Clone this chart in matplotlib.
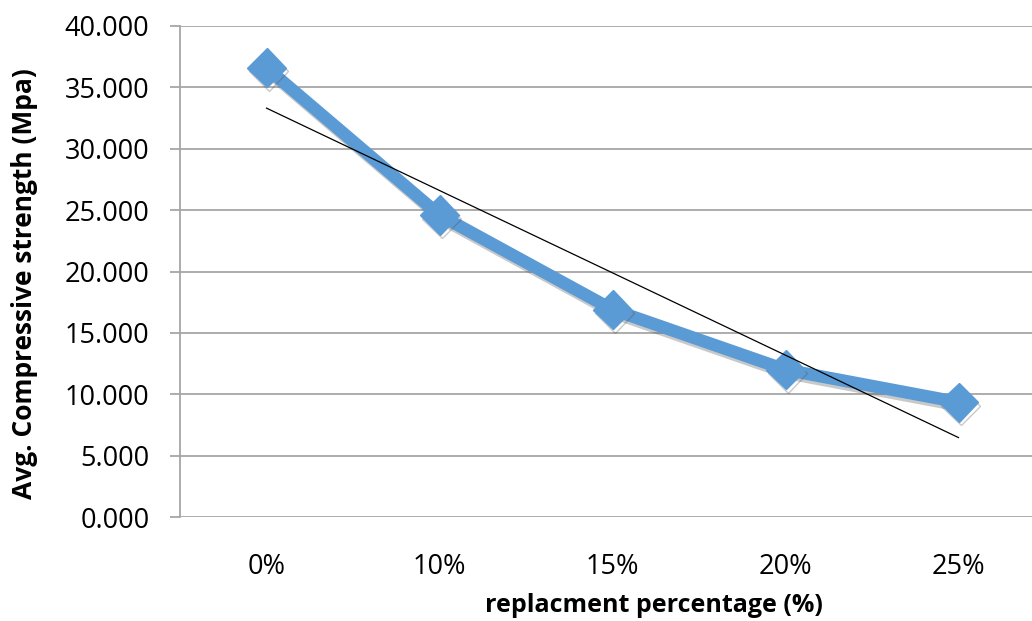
import numpy as np
import matplotlib.pyplot as plt
import matplotlib.patheffects as pe

categories = ['0%', '10%', '15%', '20%', '25%']
strength = [36.6, 24.6, 16.9, 12.0, 9.35]

plt.rcParams['font.family'] = ['Open Sans', 'DejaVu Sans']

fig = plt.figure(figsize=(10.32, 6.21), dpi=100)
ax = fig.add_axes([180 / 1032, 1 - 517 / 621, 865 / 1032, 491 / 621])

x = np.arange(1, len(categories) + 1)

# linear trendline through the points
k, b = np.polyfit(x, strength, 1)
ax.plot(x, k * x + b, color='black', lw=0.9, zorder=3)

shadow = [pe.SimpleLineShadow(offset=(1.5, -2.5), shadow_color='0.3', alpha=0.3), pe.Normal()]
ax.plot(x, strength, color='#5B9BD5', lw=9, marker='D', markersize=20,
        solid_joinstyle='miter', path_effects=shadow, zorder=2)

ax.set_xlim(0.5, 5.5)
ax.set_ylim(0, 40)
ax.set_yticks(np.arange(0, 41, 5))
ax.set_yticklabels([f'{v:.3f}' for v in np.arange(0, 41, 5)])
ax.set_xticks(x)
ax.set_xticklabels(categories)

ax.grid(axis='y', color='#A6A6A6', lw=1.3)
ax.set_axisbelow(True)
for s in ['top', 'right', 'bottom']:
    ax.spines[s].set_visible(False)
ax.spines['left'].set_color('#A6A6A6')
ax.spines['left'].set_linewidth(1.3)
ax.tick_params(axis='y', length=7, width=1.3, color='#A6A6A6', labelsize=19.5, pad=15)
ax.tick_params(axis='x', length=0, labelsize=19.5, pad=26)

ax.set_xlabel('replacment percentage (%)', fontsize=18, fontweight='bold')
ax.set_ylabel('Avg. Compressive strength (Mpa)', fontsize=19, fontweight='bold')
ax.xaxis.set_label_coords((654 - 180) / 865, -(605 - 517) / 491)
ax.xaxis.label.set_va('center')
ax.yaxis.set_label_coords(-(180 - 25) / 865, (517 - 284) / 491)
ax.yaxis.label.set_va('center')

fig.savefig('out.png', dpi=100)
